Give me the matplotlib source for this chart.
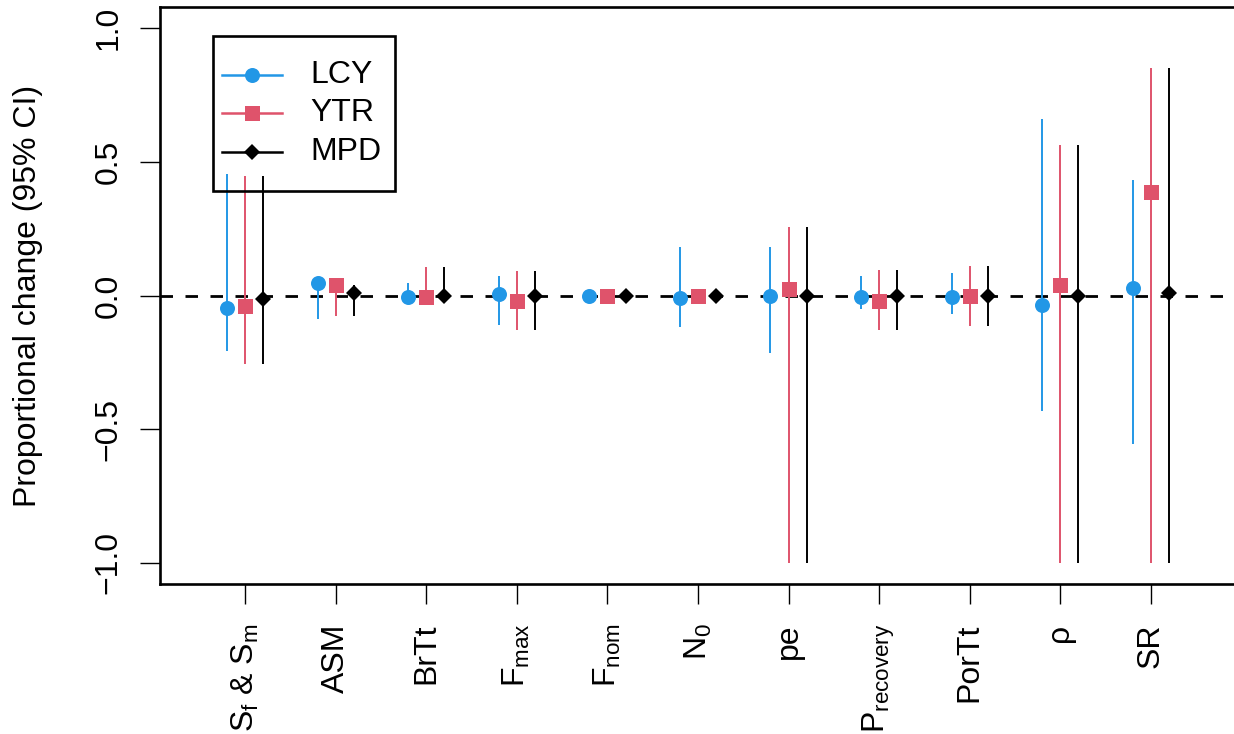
import matplotlib
matplotlib.use("Agg")
import matplotlib.pyplot as plt
from matplotlib.lines import Line2D
from matplotlib.patches import Rectangle
import numpy as np

plt.rcParams['font.family'] = ['Liberation Sans', 'DejaVu Sans']
plt.rcParams['mathtext.fontset'] = 'custom'
plt.rcParams['mathtext.rm'] = 'Liberation Sans'

# ---- data ----
categories = [r"$\mathregular{S_f}$ & $\mathregular{S_m}$", "ASM", "BrTt",
              r"$\mathregular{F_{max}}$", r"$\mathregular{F_{nom}}$",
              r"$\mathregular{N_0}$", "pe", r"$\mathregular{P_{recovery}}$",
              "PorTt", "ρ", "SR"]

lcy_est = [-0.047, 0.045, -0.005, 0.006, -0.002, -0.009, -0.003, -0.006, -0.005, -0.037, 0.029]
lcy_lo  = [-0.206, -0.087, -0.020, -0.109, -0.010, -0.119, -0.216, -0.049, -0.068, -0.431, -0.555]
lcy_hi  = [0.455, 0.050, 0.045, 0.073, 0.005, 0.180, 0.183, 0.074, 0.083, 0.659, 0.433]

ytr_est = [-0.041, 0.041, -0.004, -0.019, 0.000, 0.000, 0.024, -0.019, 0.000, 0.041, 0.387]
ytr_lo  = [-0.256, -0.078, -0.010, -0.130, -0.005, -0.010, -1.000, -0.128, -0.115, -1.000, -1.000]
ytr_hi  = [0.446, 0.050, 0.108, 0.091, 0.005, 0.010, 0.255, 0.095, 0.112, 0.565, 0.853]

mpd_est = [-0.014, 0.011, 0.000, 0.000, 0.000, 0.000, 0.000, 0.000, 0.000, 0.000, 0.011]
mpd_lo  = [-0.256, -0.078, -0.010, -0.130, -0.003, -0.005, -1.000, -0.128, -0.115, -1.000, -1.000]
mpd_hi  = [0.446, 0.041, 0.108, 0.091, 0.003, 0.005, 0.255, 0.095, 0.112, 0.565, 0.853]

series_names = ["LCY", "YTR", "MPD"]

# ---- style ----
C_LCY = "#2297E6"
C_YTR = "#DF536B"
C_MPD = "black"
FS = 23

W, H = 1234, 734
fig = plt.figure(figsize=(W / 100, H / 100), dpi=100)
ax = fig.add_axes([160 / W, 1 - 584 / H, (1236 - 160) / W, (584 - 7) / H])

x = np.arange(1, len(categories) + 1)
series = [
    (lcy_est, lcy_lo, lcy_hi, C_LCY, 'o', 10.8, -0.2),
    (ytr_est, ytr_lo, ytr_hi, C_YTR, 's', 10.8, 0.0),
    (mpd_est, mpd_lo, mpd_hi, C_MPD, 'D', 8.2, 0.2),
]

ax.axhline(0, color='black', lw=2, linestyle=(0, (4.5, 4.5)), zorder=1)
for est, lo, hi, col, mk, ms, off in series:
    ax.vlines(x + off, lo, hi, color=col, lw=1.4, zorder=2)
for est, lo, hi, col, mk, ms, off in series:
    ax.plot(x + off, est, linestyle='none', marker=mk, ms=ms, color=col,
            markeredgewidth=0, zorder=3)

ax.set_xlim(0.06, 11.94)
ax.set_ylim(-1.08, 1.08)
ax.set_xticks(x)
ax.set_xticklabels(categories, rotation=90, fontsize=FS)
ax.set_yticks([-1.0, -0.5, 0.0, 0.5, 1.0])
ax.set_yticklabels(["\u22121.0", "\u22120.5", "0.0", "0.5", "1.0"], fontsize=FS,
                   rotation=90, va='center')
ax.tick_params(axis='both', length=14.4, width=1.0, direction='out')
ax.tick_params(axis='y', pad=12)
ax.tick_params(axis='x', pad=14)
for s in ax.spines.values():
    s.set_linewidth(1.9)
ax.spines['right'].set_visible(False)

fig.text(28 / W, 1 - 296 / H, "Proportional change (95% CI)", rotation=90,
         ha='center', va='center', fontsize=FS)

# ---- legend (manual, R-style) ----
def fx(px):
    return px / W

def fy(py):
    return 1 - py / H

fig.add_artist(Rectangle((fx(213.3), fy(190.7)), fx(395) - fx(213.3), fy(35.7) - fy(190.7),
                         transform=fig.transFigure, fill=False, lw=1.9, edgecolor='black',
                         zorder=5))
rows = [75, 113.3, 151.7]
for (est, lo, hi, col, mk, ms, off), name, ry in zip(series, series_names, rows):
    fig.add_artist(Line2D([fx(222), fx(282)], [fy(ry), fy(ry)], transform=fig.transFigure,
                          color=col, lw=1.8, zorder=5))
    fig.add_artist(Line2D([fx(252)], [fy(ry)], transform=fig.transFigure, color=col,
                          marker=mk, ms=ms, markeredgewidth=0, linestyle='none', zorder=6))
    fig.text(fx(310), fy(ry), name, ha='left', va='center', fontsize=FS, zorder=6)

fig.savefig("out.png", dpi=100)
